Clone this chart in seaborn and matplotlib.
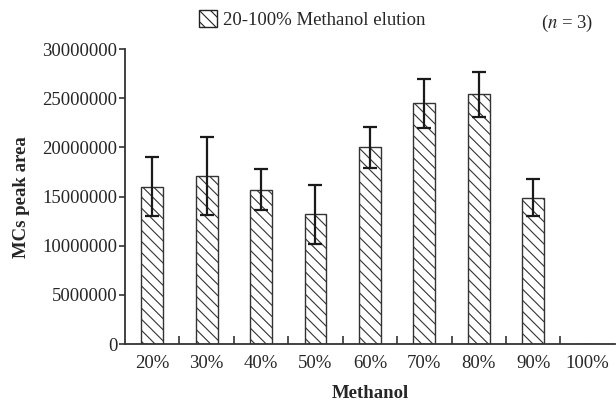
import matplotlib
matplotlib.use("Agg")
import matplotlib.pyplot as plt
import seaborn as sns
import numpy as np
import pandas as pd
from matplotlib.patches import Patch

categories = ["20%", "30%", "40%", "50%", "60%", "70%", "80%", "90%", "100%"]
means = [16.0e6, 17.1e6, 15.7e6, 13.2e6, 20.0e6, 24.5e6, 25.4e6, 14.9e6, 0.0]
errors = [3.0e6, 4.0e6, 2.1e6, 3.0e6, 2.1e6, 2.5e6, 2.3e6, 1.9e6, 0.0]
yticks = [0, 5000000, 10000000, 15000000, 20000000, 25000000, 30000000]
legend_label = "20-100% Methanol elution"

sns.set_style("ticks")
plt.rcParams["font.family"] = ["Liberation Serif", "DejaVu Serif"]
plt.rcParams["mathtext.fontset"] = "stix"
plt.rcParams["hatch.linewidth"] = 0.8
plt.rcParams["hatch.color"] = "#222222"

FS = 13.5
df = pd.DataFrame({"Methanol": categories, "area": means})

fig = plt.figure(figsize=(6.16, 4.03), dpi=100)
ax = fig.add_axes([0.203, 0.146, 0.795, 0.732])

sns.barplot(data=df, x="Methanol", y="area", ax=ax, color="white",
            edgecolor="#333333", linewidth=1.0, width=0.4, errorbar=None,
            hatch="\\\\\\")
x = np.arange(len(categories))
mask = np.array(errors) > 0
ax.errorbar(x[mask], np.array(means)[mask], yerr=np.array(errors)[mask], fmt="none",
            ecolor="#1a1a1a", elinewidth=1.6, capsize=5, capthick=1.6)

ax.set_xlim(-0.5, len(categories) - 0.5)
ax.set_ylim(0, 30000000)
ax.set_yticks(yticks)
ax.set_yticklabels([str(v) for v in yticks], fontsize=FS)
ax.set_xticks(x)
ax.set_xticklabels(categories, fontsize=FS)
ax.tick_params(axis="x", which="major", length=0, pad=8)
ax.set_xticks(np.arange(0.5, len(categories) - 0.5, 1.0), minor=True)
ax.tick_params(axis="x", which="minor", direction="in", length=6, width=1.2, color="#333333")
ax.tick_params(axis="y", direction="out", length=4, width=1.2, color="#333333", pad=1.5)
for s in ["top", "right"]:
    ax.spines[s].set_visible(False)
for s in ["left", "bottom"]:
    ax.spines[s].set_linewidth(1.3)
    ax.spines[s].set_color("#333333")

ax.set_xlabel("Methanol", fontsize=FS, fontweight="bold", labelpad=9)
ax.set_ylabel("MCs peak area", fontsize=FS, fontweight="bold", labelpad=9)

handle = Patch(facecolor="white", edgecolor="#222222", hatch="\\\\\\", linewidth=1.0)
fig.legend([handle], [legend_label], loc="center", bbox_to_anchor=(0.507, 0.951),
           frameon=False, fontsize=FS, handlelength=0.95, handleheight=0.95,
           handletextpad=0.35, borderpad=0, borderaxespad=0)
fig.text(0.921, 0.943, r"($n$ = 3)", ha="center", va="center", fontsize=FS)

fig.savefig("out.png", dpi=100)
